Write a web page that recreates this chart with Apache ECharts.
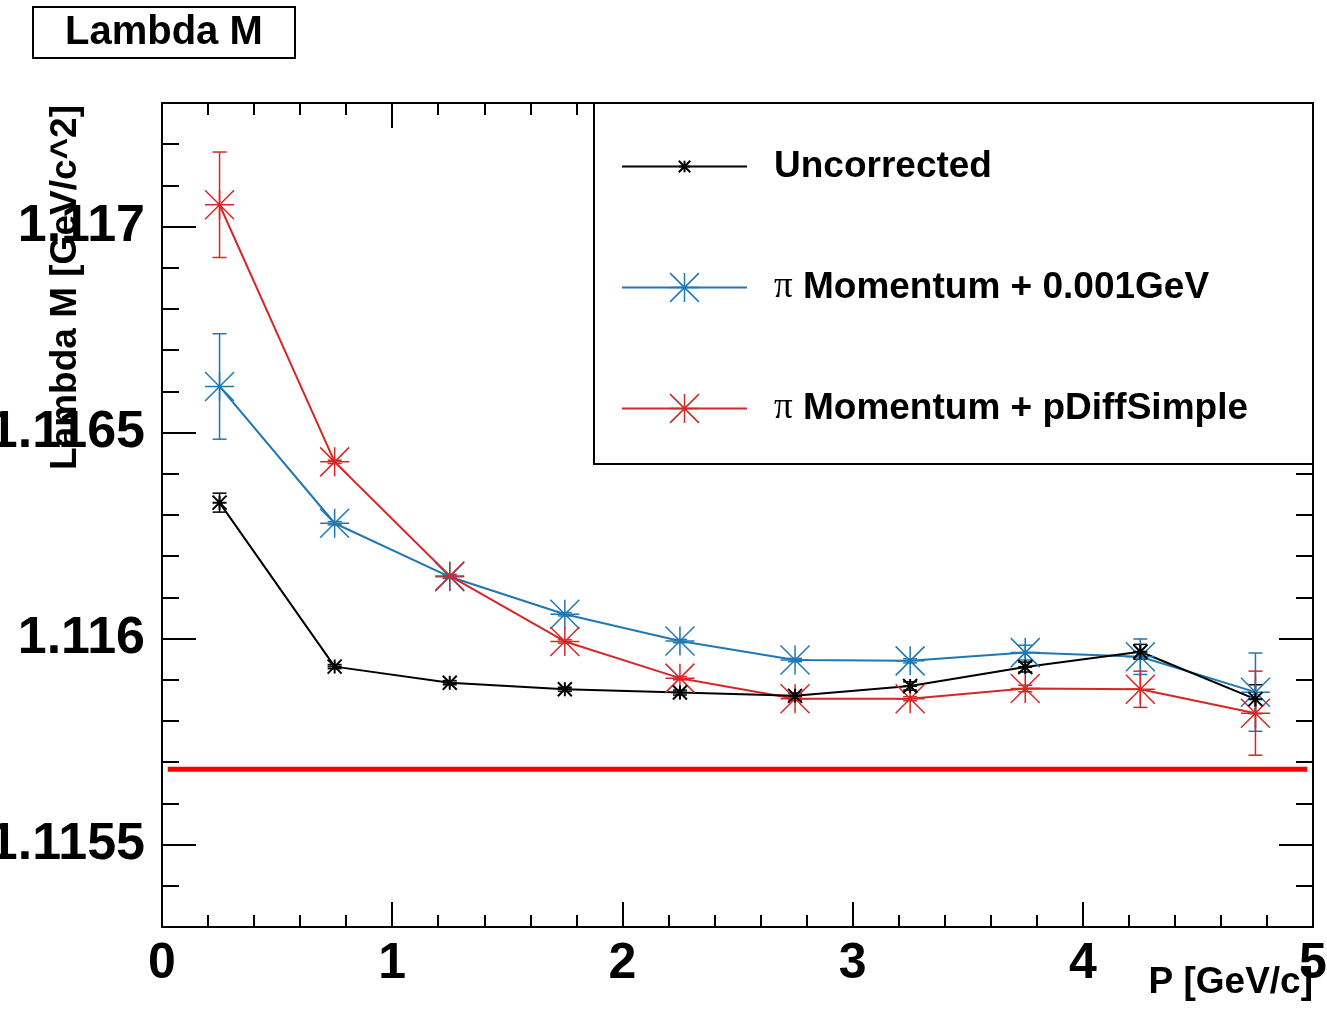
<!DOCTYPE html>
<html>
<head>
<meta charset="utf-8">
<script src="https://cdn.jsdelivr.net/npm/echarts@6/dist/echarts.min.js"></script>
<style>
html,body{margin:0;padding:0;background:#fff;}
#c{width:1327px;height:1024px;}
</style>
</head>
<body>
<div id="c"></div>
<script>
// ---- data ----
const P = [0.25, 0.75, 1.25, 1.75, 2.25, 2.75, 3.25, 3.75, 4.25, 4.75];
const M_UNCORR  = [1.116330, 1.115932, 1.115893, 1.115877, 1.115869, 1.115861, 1.115885, 1.115931, 1.115968, 1.115853];
const E_UNCORR  = [0.000023, 0.000005, 0.000005, 0.000005, 0.000006, 0.000007, 0.000010, 0.000012, 0.000018, 0.000035];
const M_PLUS001 = [1.116612, 1.116280, 1.116150, 1.116059, 1.115994, 1.115948, 1.115946, 1.115966, 1.115956, 1.115870];
const E_PLUS001 = [0.000128, 0.000004, 0.000004, 0.000004, 0.000004, 0.000004, 0.000005, 0.000018, 0.000043, 0.000095];
const M_PDIFF   = [1.117053, 1.116429, 1.116152, 1.115993, 1.115904, 1.115854, 1.115854, 1.115879, 1.115877, 1.115819];
const E_PDIFF   = [0.000128, 0.000004, 0.000004, 0.000004, 0.000004, 0.000004, 0.000005, 0.000008, 0.000044, 0.000102];
const LAMBDA_PDG = 1.115683;
const PDG_X = [0.025, 4.975];
const NAMES = ['Uncorrected', 'π Momentum + 0.001GeV', 'π Momentum + pDiffSimple'];
const X_TITLE = 'P [GeV/c]';
const Y_TITLE = 'Lambda M [GeV/c^2]';
const Y_MAJOR = [1.1155, 1.116, 1.1165, 1.117];
const Y_MINOR = [1.1153, 1.1154, 1.1155, 1.1156, 1.1157, 1.1158, 1.1159, 1.116, 1.1161, 1.1162, 1.1163,
                 1.1164, 1.1165, 1.1166, 1.1167, 1.1168, 1.1169, 1.117, 1.1171, 1.1172, 1.1173];
const Y_MIN = 1.1153, Y_MAX = 1.1173;
const X_MIN = 0, X_MAX = 5;

// ---- styles ----
const FONT = '"Liberation Sans", Arial, Helvetica, sans-serif';
const C_BLACK = '#000000', C_BLUE = '#1f77b4', C_RED = '#d62728';
const STAR = 'path://M0,10L20,10M10,0L10,20M0,0L20,20M20,0L0,20';
const STAR_SMALL = 'path://M0,0M40,40M12,20L28,20M20,12L20,28M12,12L28,28M28,12L12,28';

function pts(ys) { return P.map((x, i) => [x, ys[i]]); }
function errPts(ys, es) { return P.map((x, i) => [x, ys[i], es[i]]); }

function errSeries(ys, es, color) {
  return {
    type: 'custom', data: errPts(ys, es), silent: true, z: 3,
    encode: { x: 0, y: 1 },
    renderItem(params, api) {
      const x = api.value(0), y = api.value(1), e = api.value(2);
      const lo = api.coord([x, y - e]), hi = api.coord([x, y + e]);
      const w = 7;
      const st = { stroke: color, lineWidth: 1.5 };
      return { type: 'group', children: [
        { type: 'line', shape: { x1: lo[0], y1: lo[1], x2: hi[0], y2: hi[1] }, style: st },
        { type: 'line', shape: { x1: lo[0] - w, y1: lo[1], x2: lo[0] + w, y2: lo[1] }, style: st },
        { type: 'line', shape: { x1: hi[0] - w, y1: hi[1], x2: hi[0] + w, y2: hi[1] }, style: st }
      ]};
    }
  };
}
function lineSeries(name, ys, color, symbol, size, bw) {
  return {
    type: 'line', name: name, data: pts(ys), symbol: symbol, symbolSize: size,
    showSymbol: true, z: 4,
    lineStyle: { color: color, width: 2 },
    itemStyle: { color: color, borderColor: color, borderWidth: bw },
    emphasis: { disabled: true }
  };
}
const tickStyle = { color: '#000', width: 2 };
const frameLine = { show: true, onZero: false, lineStyle: { color: '#000', width: 2 } };

const chart = echarts.init(document.getElementById('c'), null, { renderer: 'canvas' });
chart.setOption({
  animation: false,
  backgroundColor: '#fff',
  title: {
    text: 'Lambda M', left: 33, top: 7, padding: [6, 32, 6, 32],
    borderColor: '#000', borderWidth: 2,
    textStyle: { fontFamily: FONT, fontWeight: 'bold', fontSize: 40, lineHeight: 39, color: '#000' }
  },
  grid: [
    { left: 162, top: 103, width: 1151, height: 824, containLabel: false, outerBoundsMode: 'none' },
    { left: 162, top: 103, width: 1151, height: 824, containLabel: false, outerBoundsMode: 'none' }
  ],
  xAxis: [
    { type: 'value', gridIndex: 0, position: 'bottom', min: X_MIN, max: X_MAX, interval: 1,
      axisLine: frameLine,
      axisTick: { inside: true, length: 25, lineStyle: tickStyle },
      minorTick: { show: true, splitNumber: 5, length: 12, lineStyle: tickStyle },
      splitLine: { show: false }, minorSplitLine: { show: false },
      axisLabel: { fontFamily: FONT, fontWeight: 'bold', fontSize: 50, lineHeight: 50, color: '#000', margin: 12,
                   showMinLabel: true, showMaxLabel: true }
    },
    { type: 'value', gridIndex: 0, position: 'top', min: X_MIN, max: X_MAX, interval: 1,
      axisLine: frameLine,
      axisTick: { inside: true, length: 25, lineStyle: tickStyle },
      minorTick: { show: true, splitNumber: 5, length: 12, lineStyle: tickStyle },
      splitLine: { show: false }, minorSplitLine: { show: false },
      axisLabel: { show: false }
    },
    { type: 'value', gridIndex: 1, min: X_MIN, max: X_MAX, show: false }
  ],
  yAxis: [
    { type: 'value', gridIndex: 0, position: 'left', min: Y_MIN, max: Y_MAX,
      axisLine: frameLine,
      axisTick: { inside: true, length: 17, lineStyle: tickStyle, customValues: Y_MINOR },
      splitLine: { show: false },
      axisLabel: { customValues: Y_MAJOR, formatter: v => String(v),
                   fontFamily: FONT, fontWeight: 'bold', fontSize: 52, color: '#000', margin: 17 }
    },
    { type: 'value', gridIndex: 0, position: 'right', min: Y_MIN, max: Y_MAX,
      axisLine: frameLine,
      axisTick: { inside: true, length: 17, lineStyle: tickStyle, customValues: Y_MINOR },
      splitLine: { show: false },
      axisLabel: { show: false }
    },
    { type: 'value', gridIndex: 1, position: 'left', min: Y_MIN, max: Y_MAX,
      axisLine: { show: false, onZero: false },
      axisTick: { inside: true, length: 34, lineStyle: tickStyle, customValues: Y_MAJOR },
      splitLine: { show: false },
      axisLabel: { show: false }
    },
    { type: 'value', gridIndex: 1, position: 'right', min: Y_MIN, max: Y_MAX,
      axisLine: { show: false, onZero: false },
      axisTick: { inside: true, length: 34, lineStyle: tickStyle, customValues: Y_MAJOR },
      splitLine: { show: false },
      axisLabel: { show: false }
    }
  ],
  legend: {
    orient: 'vertical', left: 621, top: 148, itemWidth: 125, itemHeight: 36, itemGap: 84,
    z: 10, selectedMode: false, padding: 0,
    data: [
      { name: NAMES[0], itemStyle: { color: C_BLACK, borderColor: C_BLACK, borderWidth: 2 }, lineStyle: { color: C_BLACK, width: 2 } },
      { name: NAMES[1], itemStyle: { color: C_BLUE, borderColor: C_BLUE, borderWidth: 1.5 }, lineStyle: { color: C_BLUE, width: 2 } },
      { name: NAMES[2], itemStyle: { color: C_RED, borderColor: C_RED, borderWidth: 1.5 }, lineStyle: { color: C_RED, width: 2 } }
    ],
    formatter: n => n.replace('π', '{pi|π}'),
    textStyle: {
      fontFamily: FONT, fontWeight: 'bold', fontSize: 37, lineHeight: 36, color: '#000', padding: [0, 0, 0, 22],
      rich: { pi: { fontFamily: '"Liberation Serif", "DejaVu Serif", serif', fontWeight: 'normal', fontSize: 37, lineHeight: 36, color: '#000' } }
    }
  },
  graphic: {
    elements: [
      { type: 'rect', z: 5, shape: { x: 594, y: 103, width: 719, height: 361 },
        style: { fill: '#fff', stroke: '#000', lineWidth: 2 } },
      { type: 'text', z: 6, x: 66, y: 105, rotation: Math.PI / 2,
        style: { text: Y_TITLE, fontFamily: FONT, fontWeight: 'bold', fontSize: 37, fill: '#000',
                 align: 'right', verticalAlign: 'middle', textAlign: 'right', textVerticalAlign: 'middle' } },
      { type: 'text', z: 6, x: 1313, y: 983,
        style: { text: X_TITLE, fontFamily: FONT, fontWeight: 'bold', fontSize: 37, fill: '#000',
                 align: 'right', verticalAlign: 'middle', textAlign: 'right', textVerticalAlign: 'middle' } }
    ]
  },
  series: [
    { type: 'line', data: PDG_X.map(x => [x, LAMBDA_PDG]), symbol: 'none', silent: true, z: 1,
      lineStyle: { color: '#ff0000', width: 5, cap: 'butt' } },
    errSeries(M_PLUS001, E_PLUS001, C_BLUE),
    errSeries(M_PDIFF, E_PDIFF, C_RED),
    errSeries(M_UNCORR, E_UNCORR, C_BLACK),
    lineSeries(NAMES[1], M_PLUS001, C_BLUE, STAR, 29, 1.5),
    lineSeries(NAMES[2], M_PDIFF, C_RED, STAR, 29, 1.5),
    lineSeries(NAMES[0], M_UNCORR, C_BLACK, STAR_SMALL, 35, 2)
  ]
});
</script>
</body>
</html>
